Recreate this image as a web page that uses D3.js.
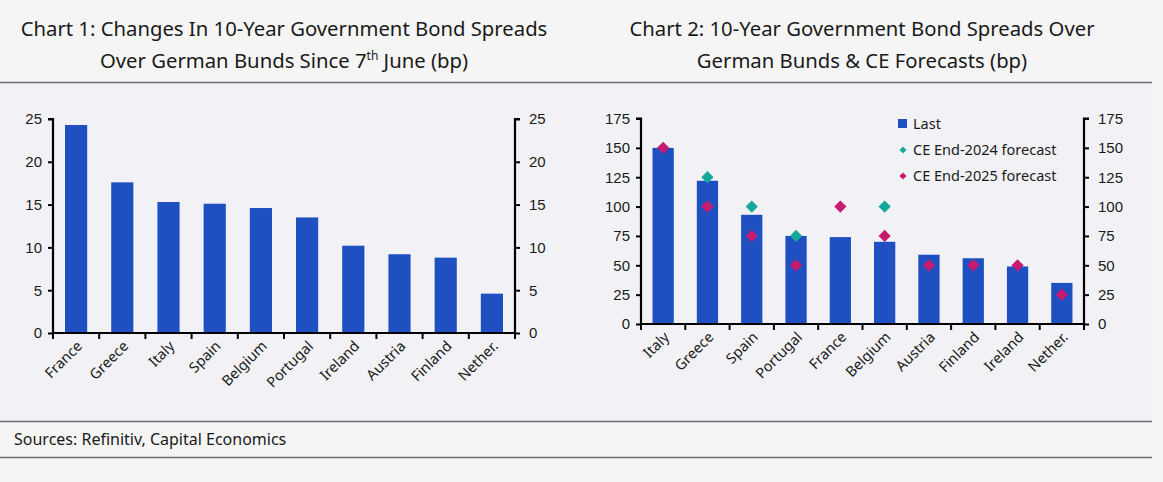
<!DOCTYPE html>
<html>
<head>
<meta charset="utf-8">
<script src="https://cdn.jsdelivr.net/npm/d3@7.9.0/dist/d3.min.js"></script>
<style>
  body { margin: 0; background: #f5f5f5; }
  svg { display: block; font-family: "Noto Sans", "Open Sans", sans-serif; }
</style>
</head>
<body>
<svg id="chart" width="1163" height="482"></svg>
<script>
// chart 1 data
const countries1 = ['France', 'Greece', 'Italy', 'Spain', 'Belgium', 'Portugal', 'Ireland', 'Austria', 'Finland', 'Nether.'];
const changes = [24.3, 17.6, 15.3, 15.1, 14.6, 13.5, 10.2, 9.2, 8.8, 4.6];
const ticks1 = [0, 5, 10, 15, 20, 25];

// chart 2 data
const countries2 = ['Italy', 'Greece', 'Spain', 'Portugal', 'France', 'Belgium', 'Austria', 'Finland', 'Ireland', 'Nether.'];
const last = [150, 122, 93, 75, 74, 70, 59, 56, 49, 35];
const fc2024 = [null, 125, 100, 75, null, 100, null, null, null, null];
const fc2025 = [150, 100, 75, 50, 100, 75, 50, 50, 50, 25];
const ticks2 = [0, 25, 50, 75, 100, 125, 150, 175];

const blue = '#1e50c1', green = '#15a899', pink = '#c71b70';
const svg = d3.select('#chart');

// backgrounds and rules
svg.append('rect').attr('x', 0).attr('y', 0).attr('width', 1163).attr('height', 482).attr('fill', '#f5f5f5');
svg.append('rect').attr('x', 0).attr('y', 82).attr('width', 1152).attr('height', 340).attr('fill', '#f2f2f6');
[82.5, 421.5, 457.5].forEach(y => {
  svg.append('line').attr('x1', 0).attr('x2', 1152).attr('y1', y).attr('y2', y)
    .attr('stroke', '#6d6d72').attr('stroke-width', 1.5);
});

function title(lines, cx) {
  lines.forEach((l, i) => {
    const t = svg.append('text').attr('x', cx).attr('y', 36 + i * 32)
      .attr('text-anchor', 'middle').attr('font-size', 20.3).attr('fill', '#1a1a1a');
    l.forEach(part => {
      const s = t.append('tspan').text(part.t);
      if (part.sup) s.attr('font-size', 12).attr('dy', -8);
      if (part.after) s.attr('dy', 8);
    });
  });
}
title([[{ t: 'Chart 1: Changes In 10-Year Government Bond Spreads' }],
       [{ t: 'Over German Bunds Since 7' }, { t: 'th', sup: true }, { t: ' June (bp)', after: true }]], 284);
title([[{ t: 'Chart 2: 10-Year Government Bond Spreads Over' }],
       [{ t: 'German Bunds & CE Forecasts (bp)' }]], 862);

svg.append('text').attr('x', 14).attr('y', 445).attr('font-size', 16).attr('fill', '#1a1a1a')
  .text('Sources: Refinitiv, Capital Economics');

function panel(opts) {
  const g = svg.append('g');
  const x = d3.scaleBand().domain(opts.cats).range([opts.x0, opts.x1]).paddingInner(0.52).paddingOuter(0.26);
  const y = d3.scaleLinear().domain([0, opts.max]).range([opts.y0, opts.y1]);

  g.selectAll('rect.bar').data(opts.values).join('rect')
    .attr('x', (d, i) => x(opts.cats[i]))
    .attr('width', x.bandwidth())
    .attr('y', d => y(d))
    .attr('height', d => y(0) - y(d))
    .attr('fill', blue);

  const left = g.append('g').attr('transform', `translate(${opts.x0},0)`)
    .call(d3.axisLeft(y).tickValues(opts.ticks).tickSize(5).tickPadding(6));
  const right = g.append('g').attr('transform', `translate(${opts.x1},0)`)
    .call(d3.axisRight(y).tickValues(opts.ticks).tickSize(5).tickPadding(9));

  // x axis with ticks at band edges
  const edges = d3.range(opts.cats.length + 1).map(i => opts.x0 + i * (opts.x1 - opts.x0) / opts.cats.length);
  const xa = g.append('g');
  xa.append('line').attr('x1', opts.x0).attr('x2', opts.x1).attr('y1', opts.y0).attr('y2', opts.y0)
    .attr('stroke', '#000').attr('stroke-width', 2.2);
  xa.selectAll('line.tk').data(edges).join('line').attr('class', 'tk')
    .attr('x1', d => d).attr('x2', d => d).attr('y1', opts.y0).attr('y2', opts.y0 + 6)
    .attr('stroke', '#000').attr('stroke-width', 2);
  xa.selectAll('text').data(opts.cats).join('text')
    .attr('transform', d => `translate(${x(d) + x.bandwidth() / 2 + 7},${opts.y0 + 14}) rotate(-45)`)
    .attr('text-anchor', 'end').attr('font-size', 14.5).attr('fill', '#1a1a1a')
    .text(d => d);

  [left, right].forEach(a => {
    a.select('.domain').attr('stroke-width', 2.2).attr('d',
      a === left ? `M-5,${opts.y1}H0V${opts.y0}` : `M5,${opts.y1}H0V${opts.y0}`);
    a.selectAll('.tick line').attr('stroke-width', 2);
    a.selectAll('.tick text').attr('font-size', 15).attr('fill', '#1a1a1a');
  });
  return { x, y, g };
}

panel({ cats: countries1, values: changes, ticks: ticks1, max: 25, x0: 53, x1: 515, y0: 333, y1: 119 });
const p2 = panel({ cats: countries2, values: last, ticks: ticks2, max: 175, x0: 641, x1: 1084, y0: 324, y1: 118.5 });

const diamond = d3.symbol().type(d3.symbolDiamond2);
[[fc2024, green], [fc2025, pink]].forEach(([vals, col]) => {
  p2.g.selectAll(null).data(vals.map((v, i) => ({ v, c: countries2[i] })).filter(d => d.v !== null))
    .join('path')
    .attr('d', diamond.size(95)())
    .attr('transform', d => `translate(${p2.x(d.c) + p2.x.bandwidth() / 2},${p2.y(d.v)})`)
    .attr('fill', col);
});

// legend
const lg = svg.append('g');
lg.append('rect').attr('x', 898).attr('y', 119).attr('width', 9).attr('height', 9).attr('fill', blue);
lg.append('path').attr('d', diamond.size(32)()).attr('transform', 'translate(903,150)').attr('fill', green);
lg.append('path').attr('d', diamond.size(32)()).attr('transform', 'translate(903,176)').attr('fill', pink);
[['Last', 124], ['CE End-2024 forecast', 150], ['CE End-2025 forecast', 176]].forEach(([t, yy]) => {
  lg.append('text').attr('x', 913).attr('y', yy).attr('dy', '0.35em').attr('font-size', 14.5)
    .attr('fill', '#1a1a1a').text(t);
});
</script>
</body>
</html>
